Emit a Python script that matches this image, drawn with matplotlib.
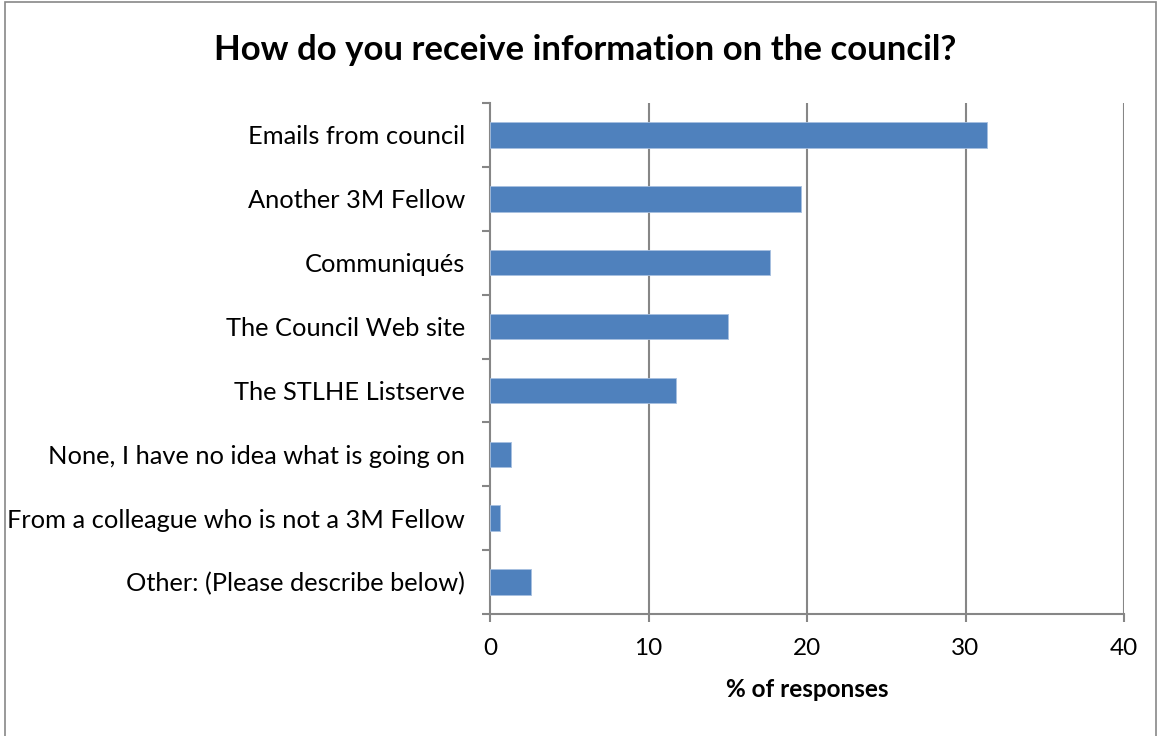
import numpy as np
import matplotlib.pyplot as plt
from matplotlib.patches import Rectangle

plt.rcParams['font.family'] = ['Lato', 'DejaVu Sans']

categories = ["Emails from council", "Another 3M Fellow", "Communiqués",
              "The Council Web site", "The STLHE Listserve",
              "None, I have no idea what is going on",
              "From a colleague who is not a 3M Fellow",
              "Other: (Please describe below)"]
values = [31.37, 19.61, 17.65, 15.03, 11.76, 1.31, 0.65, 2.61]
xticks = [0, 10, 20, 30, 40]

W, H = 1159, 736
fig = plt.figure(figsize=(W / 100, H / 100), dpi=100)
ax = fig.add_axes([490 / W, 1 - 614 / H, (1124 - 490) / W, (614 - 103) / H])

# frame around whole chart (bottom edge falls outside the image)
fig.patches.append(Rectangle((5 / W, -0.02), 1 - 8 / W, 1 - 2 / H + 0.02,
                             transform=fig.transFigure,
                             fill=False, edgecolor='#878787', linewidth=1.2))

grey = '#868686'
y = np.arange(len(categories))
ax.barh(y, values, height=0.4, color='#4f81bd', edgecolor='#a6bfe0', linewidth=0.6, zorder=3)

ax.set_xlim(0, 40)
ax.set_ylim(len(categories) - 0.5, -0.5)
ax.set_xticks(xticks)
ax.set_xticklabels([str(t) for t in xticks], fontsize=17.5)
ax.set_yticks(y)
ax.set_yticklabels(categories, fontsize=18.3)
ax.set_yticks(np.arange(-0.5, len(categories), 1), minor=True)
ax.tick_params(axis='y', which='major', length=0, pad=18)
ax.tick_params(axis='y', which='minor', length=6, width=1.5, color=grey)
ax.tick_params(axis='x', length=6, width=1.5, color=grey, pad=11)

for t in xticks[1:]:
    ax.axvline(t, color=grey, linewidth=1.5, zorder=1)

for s in ['top', 'right']:
    ax.spines[s].set_visible(False)
for s in ['left', 'bottom']:
    ax.spines[s].set_color(grey)
    ax.spines[s].set_linewidth(1.5)

ax.set_xlabel("% of responses", fontsize=17.5, fontweight='bold', labelpad=14)
fig.text(585 / W, 1 - 50 / H, "How do you receive information on the council?",
         ha='center', va='center', fontsize=25, fontweight='bold')

fig.savefig("out.png", dpi=100)
